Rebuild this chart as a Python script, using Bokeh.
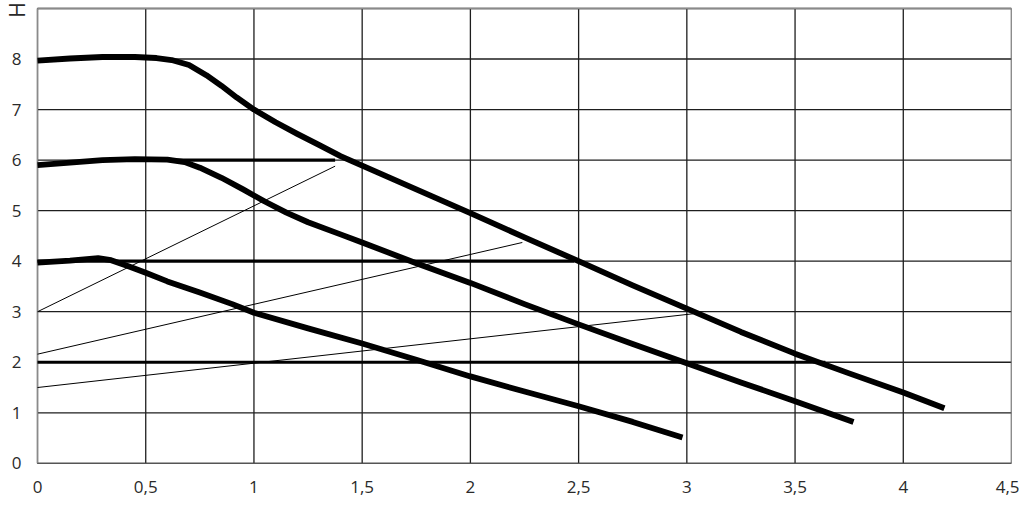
import math
from bokeh.plotting import figure
from bokeh.models import Range1d, FixedTicker
from bokeh.core.properties import value
from bokeh.embed import file_html
from bokeh.resources import INLINE

# Pump curves (Q, H)
curve_8_q = [0, 0.15, 0.3, 0.45, 0.55, 0.62, 0.7, 0.78, 0.85, 0.92, 1.0, 1.1, 1.2, 1.3, 1.4, 1.5,
             1.75, 2.0, 2.25, 2.5, 2.75, 3.0, 3.25, 3.5, 3.75, 4.0, 4.19]
curve_8_h = [7.97, 8.01, 8.04, 8.04, 8.02, 7.98, 7.88, 7.68, 7.47, 7.24, 7.0, 6.75, 6.52, 6.30, 6.08, 5.89,
             5.42, 4.95, 4.47, 4.0, 3.52, 3.06, 2.6, 2.17, 1.78, 1.40, 1.09]

curve_6_q = [0, 0.15, 0.3, 0.45, 0.6, 0.68, 0.75, 0.85, 0.95, 1.0, 1.05, 1.15, 1.25, 1.4, 1.5,
             1.75, 2.0, 2.25, 2.5, 2.75, 3.0, 3.25, 3.5, 3.77]
curve_6_h = [5.90, 5.95, 6.0, 6.02, 6.01, 5.96, 5.85, 5.65, 5.42, 5.30, 5.18, 4.96, 4.77, 4.53, 4.37,
             3.96, 3.57, 3.15, 2.75, 2.36, 1.98, 1.6, 1.23, 0.82]

curve_4_q = [0, 0.15, 0.28, 0.34, 0.42, 0.5, 0.6, 0.75, 0.9, 1.0, 1.25, 1.5, 1.75, 2.0, 2.25, 2.5, 2.75, 2.98]
curve_4_h = [3.97, 4.01, 4.06, 4.02, 3.9, 3.77, 3.6, 3.38, 3.15, 2.98, 2.67, 2.37, 2.05, 1.72, 1.42, 1.13, 0.82, 0.51]

# Constant-head lines
const_h = [6, 4, 2]
const_q_start = [0.55, 0.0, 0.0]
const_q_end = [1.375, 2.48, 3.64]

# System (thin) lines
sys_q_start = [0.0, 0.0, 0.0]
sys_h_start = [3.0, 2.16, 1.50]
sys_q_end = [1.375, 2.24, 3.03]
sys_h_end = [5.88, 4.37, 2.96]

x_ticks = [0, 0.5, 1, 1.5, 2, 2.5, 3, 3.5, 4, 4.5]
x_tick_labels = ["0", "0,5", "1", "1,5", "2", "2,5", "3", "3,5", "4", "4,5"]
y_ticks = [0, 1, 2, 3, 4, 5, 6, 7, 8]
y_tick_labels = ["0", "1", "2", "3", "4", "5", "6", "7", "8"]
y_title = "H"
q_min, q_max = 0, 4.5
h_min, h_max = 0, 9

# view window (leaves room left of Q=0, below H=0 and above H=9 for the labels)
X_START, X_END = -0.171, 4.5
Y_START, Y_END = -0.30, 9.158

p = figure(width=1019, height=505, output_backend="svg", toolbar_location=None,
           x_range=Range1d(X_START, X_END), y_range=Range1d(Y_START, Y_END),
           min_border_left=0, min_border_right=8, min_border_top=0, min_border_bottom=27)
p.background_fill_color = "white"
p.border_fill_color = "white"
p.outline_line_color = None
p.xgrid.visible = False
p.ygrid.visible = False

for ax in (p.xaxis, p.yaxis):
    ax.axis_line_color = None
    ax.major_tick_line_color = None
    ax.minor_tick_line_color = None
    ax.major_tick_out = 0
    ax.major_tick_in = 0
    ax.major_label_text_font = "Open Sans"
    ax.major_label_text_font_size = "17px"
    ax.major_label_text_color = "#2a2a2a"

p.xaxis.ticker = FixedTicker(ticks=x_ticks)
p.xaxis.major_label_overrides = {t: l for t, l in zip(x_ticks, x_tick_labels)}
p.xaxis.major_label_standoff = 2
p.yaxis.ticker = FixedTicker(ticks=y_ticks)
p.yaxis.major_label_overrides = {t: l for t, l in zip(y_ticks, y_tick_labels)}
p.yaxis.major_label_standoff = 16
p.yaxis.fixed_location = 0

# grid (drawn from tick lists, limited to the data box)
p.segment(x0=x_ticks, y0=[h_min] * len(x_ticks), x1=x_ticks, y1=[h_max] * len(x_ticks),
          line_color="#1e1e1e", line_width=1.3)
h_lines = y_ticks + [h_max]
p.segment(x0=[q_min] * len(h_lines), y0=h_lines, x1=[q_max] * len(h_lines), y1=h_lines,
          line_color="#1e1e1e", line_width=1.3)
# lighter frame edges
p.segment(x0=[q_min, q_min, q_max], y0=[h_min, h_max, h_min], x1=[q_min, q_max, q_max], y1=[h_max, h_max, h_max],
          line_color="#8a8a8a", line_width=1.3)
p.segment(x0=[q_min], y0=[h_min], x1=[q_max], y1=[h_min], line_color="#555555", line_width=1.3)

# thin system lines
p.segment(x0=sys_q_start, y0=sys_h_start, x1=sys_q_end, y1=sys_h_end, line_color="black", line_width=1)

# constant-head lines
p.segment(x0=const_q_start, y0=const_h, x1=const_q_end, y1=const_h, line_color="black", line_width=3.2)

# pump curves
for qs, hs in ((curve_8_q, curve_8_h), (curve_6_q, curve_6_h), (curve_4_q, curve_4_h)):
    p.line(qs, hs, line_color="black", line_width=5.8, line_join="round", line_cap="butt")

# rotated axis title
p.text(x=[-0.095], y=[8.97], text=[y_title], angle=math.pi / 2,
       text_font=value("Open Sans"), text_font_size="21px", text_color="#2a2a2a",
       text_align="center", text_baseline="middle")

open("out.html", "w").write(file_html(p, INLINE))
